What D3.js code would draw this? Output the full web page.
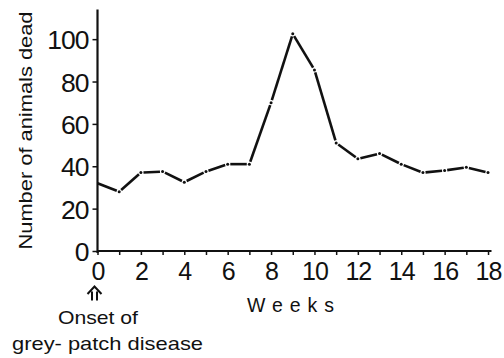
<!DOCTYPE html>
<html>
<head>
<meta charset="utf-8">
<script src="https://cdn.jsdelivr.net/npm/d3@7"></script>
<style>
html,body{margin:0;padding:0;background:#fff;}
svg{display:block;}
text{font-family:"Liberation Sans",Arial,Helvetica,sans-serif;fill:#111;}
</style>
</head>
<body>
<svg id="c" width="504" height="358"></svg>
<script>
const weeks = [0,1,2,3,4,5,6,7,8,9,10,11,12,13,14,15,16,17,18];
const dead = [32,28,37,37.5,32.5,37.5,41,41,70,102.5,85.5,51,43.5,46,41,37,38,39.5,37];
const yTicks = [0,20,40,60,80,100];
const xTicks = [0,2,4,6,8,10,12,14,16,18];
const yTitle = "Number of animals dead";
const xTitle = "Weeks";
const note1 = "Onset of";
const note2 = "grey- patch disease";

const svg = d3.select("#c");
const x = d3.scaleLinear().domain([0,18.16]).range([97.5,491.5]);
const y = d3.scaleLinear().domain([0,114]).range([251,9.5]);

// axes
const yAxis = svg.append("g").attr("transform",`translate(${x(0)},0)`)
  .call(d3.axisLeft(y).tickValues(yTicks).tickSize(5).tickPadding(4).tickFormat(d3.format("d")));
yAxis.select(".domain").attr("d",`M0,${y(114)}V${y(0)+2}`).attr("stroke","#111").attr("stroke-width",2.2);
yAxis.selectAll(".tick line").attr("stroke","#111").attr("stroke-width",1.5);
yAxis.selectAll(".tick text").attr("font-size",26.5).attr("font-family","Liberation Sans, Arial, sans-serif").attr("fill","#111").attr("letter-spacing",-1).attr("dy","0.36em");

const xAxis = svg.append("g").attr("transform",`translate(0,${y(0)})`)
  .call(d3.axisBottom(x).tickValues(d3.range(0,19,1)).tickSize(4).tickPadding(7)
    .tickFormat(d => xTicks.includes(d) ? d : ""));
xAxis.select(".domain").attr("d",`M${x(0)},0H${x(18.16)}`).attr("stroke","#111").attr("stroke-width",2.2);
xAxis.selectAll(".tick line").attr("stroke","#111").attr("stroke-width",1.5);
xAxis.selectAll(".tick text").attr("font-size",25).attr("font-family","Liberation Sans, Arial, sans-serif").attr("fill","#111").attr("letter-spacing",-1);

// data line: segments with small gaps and dots at points
const pts = weeks.map((w,i)=>[x(w), y(dead[i])]);
const gap = 2.6;
for (let i=0;i<pts.length-1;i++){
  const [x1,y1]=pts[i],[x2,y2]=pts[i+1];
  const L=Math.hypot(x2-x1,y2-y1), ux=(x2-x1)/L, uy=(y2-y1)/L;
  const g0 = i===0?0:gap;
  svg.append("line")
    .attr("x1",x1+ux*g0).attr("y1",y1+uy*g0)
    .attr("x2",x2-ux*gap).attr("y2",y2-uy*gap)
    .attr("stroke","#111").attr("stroke-width",2.6);
}
svg.selectAll("circle.pt").data(pts.slice(1)).enter().append("circle")
  .attr("cx",d=>d[0]).attr("cy",d=>d[1]).attr("r",1.5).attr("fill","#111");

// y title
svg.append("text").attr("transform",`translate(32,${(y(0)+10)/2}) rotate(-90)`)
  .attr("text-anchor","middle").attr("font-size",19).text(yTitle)
  .attr("textLength",238).attr("lengthAdjust","spacingAndGlyphs");

// x title
svg.append("text").attr("x",294).attr("y",312).attr("text-anchor","middle")
  .attr("font-size",19.5).attr("letter-spacing",7).text(xTitle);

// arrow
const ax = 94.5, ay = 286.5;
svg.append("path")
  .attr("d",`M${ax-7},${ay+7.5}L${ax},${ay}L${ax+7},${ay+7.5}M${ax-2.5},${ay+5}V${ay+14}M${ax+2.5},${ay+5}V${ay+14}`)
  .attr("fill","none").attr("stroke","#111").attr("stroke-width",2);

svg.append("text").attr("x",98).attr("y",324).attr("text-anchor","middle")
  .attr("font-size",19).text(note1)
  .attr("textLength",80).attr("lengthAdjust","spacingAndGlyphs");
svg.append("text").attr("x",12).attr("y",350)
  .attr("font-size",18.5).text(note2)
  .attr("textLength",191).attr("lengthAdjust","spacingAndGlyphs");
</script>
</body>
</html>
